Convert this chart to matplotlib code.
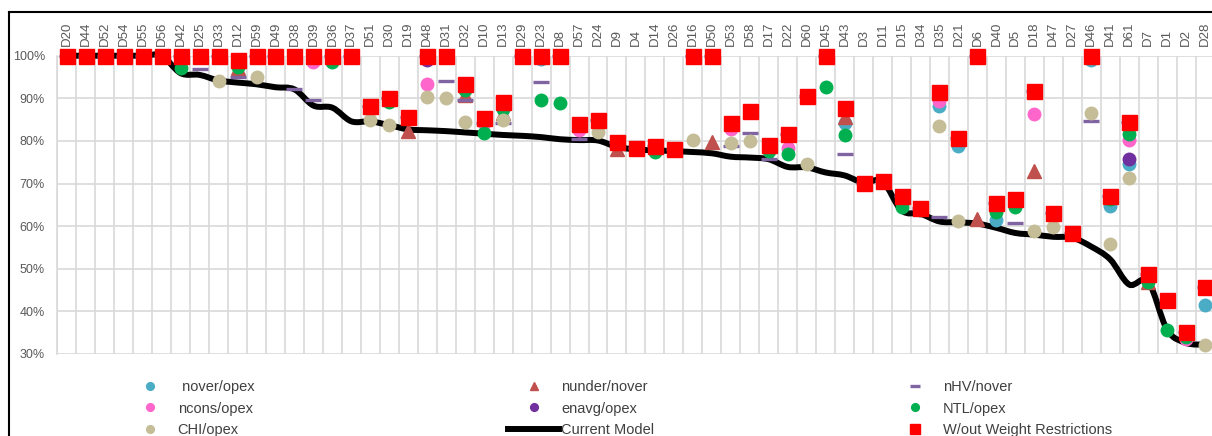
import numpy as np
import matplotlib.pyplot as plt
from matplotlib.path import Path
from matplotlib.patches import PathPatch
from matplotlib.lines import Line2D

plt.rcParams['font.family'] = ['Liberation Sans', 'DejaVu Sans']

# districts, sorted by the current model score
districts = ['D20', 'D44', 'D52', 'D54', 'D55', 'D56', 'D42', 'D25', 'D33', 'D12',
             'D59', 'D49', 'D38', 'D39', 'D36', 'D37', 'D51', 'D30', 'D19', 'D48',
             'D31', 'D32', 'D10', 'D13', 'D29', 'D23', 'D8', 'D57', 'D24', 'D9',
             'D4', 'D14', 'D26', 'D16', 'D50', 'D53', 'D58', 'D17', 'D22', 'D60',
             'D45', 'D43', 'D3', 'D11', 'D15', 'D34', 'D35', 'D21', 'D6', 'D40',
             'D5', 'D18', 'D47', 'D27', 'D46', 'D41', 'D61', 'D7', 'D1', 'D2',
             'D28']

# efficiency scores in %
nover_opex = [100, 100, 100, 100, 100, 100, 100, 100, 100, 98.9,
              100, 100, 100, 100, 100, 100, 88.2, 90.1, 85.6, 100,
              100, 93.3, 85.4, 89.1, 100, 99.2, 100, 84.0, 85.0, 79.8,
              78.3, 78.9, 78.1, 100, 100, 84.3, 87.0, 79.0, 81.6, 90.6,
              100, 84.3, 70.2, 70.6, 67.0, 64.2, 88.1, 78.7, 100, 61.5,
              66.3, 91.8, 63.1, 58.5, 99.0, 64.8, 74.5, 48.7, 42.6, 35.2,
              41.6]
nunder_nover = [100, 100, 100, 100, 100, 100, 100, 100, 100, 97.2,
                100, 100, 100, 100, 100, 100, 88.2, 90.1, 82.4, 100,
                100, 90.8, 85.4, 86.6, 100, 100, 100, 84.0, 85.0, 78.1,
                78.3, 78.9, 78.1, 100, 79.8, 84.3, 87.0, 79.0, 81.6, 90.6,
                100, 85.7, 70.2, 70.6, 67.0, 64.2, 91.6, 80.6, 61.7, 65.4,
                66.3, 73.0, 63.1, 58.5, 100, 67.0, 84.4, 46.9, 42.6, 35.2,
                45.7]
nhv_nover = [100, 100, 100, 100, 100, 100, 100, 97.0, 100, 95.1,
             100, 100, 92.1, 89.6, 100, 100, 88.2, 90.1, 85.6, 100,
             94.1, 89.6, 84.2, 84.2, 100, 93.8, 100, 80.4, 85.0, 79.8,
             78.3, 78.9, 78.1, 100, 100, 78.7, 81.8, 75.7, 81.6, 90.6,
             100, 76.9, 70.2, 70.6, 67.0, 64.2, 62.1, 80.6, 100, 65.4,
             60.7, 91.8, 63.1, 58.5, 84.7, 67.0, 84.4, 48.7, 42.6, 35.2,
             45.7]
ncons_opex = [100, 100, 100, 100, 100, 100, 100, 100, 100, 98.9,
              100, 100, 100, 98.6, 100, 100, 88.2, 90.1, 85.6, 93.4,
              100, 93.3, 84.2, 89.1, 100, 100, 100, 82.6, 85.0, 79.8,
              78.3, 78.9, 78.1, 100, 100, 82.8, 87.0, 79.0, 78.3, 90.6,
              100, 87.7, 70.2, 70.6, 67.0, 64.2, 89.4, 80.6, 100, 65.4,
              66.3, 86.3, 63.1, 58.5, 100, 67.0, 80.2, 48.7, 42.6, 33.5,
              45.7]
enavg_opex = [100, 100, 100, 100, 100, 100, 100, 100, 100, 98.9,
              100, 100, 100, 100, 100, 100, 88.2, 90.1, 85.6, 99.0,
              100, 93.3, 85.4, 89.1, 100, 100, 100, 84.0, 85.0, 79.8,
              78.3, 78.9, 78.1, 100, 100, 84.3, 87.0, 79.0, 81.6, 90.6,
              100, 87.7, 70.2, 70.6, 67.0, 64.2, 91.6, 80.6, 100, 65.4,
              66.3, 91.8, 63.1, 58.5, 100, 67.0, 75.7, 48.7, 42.6, 35.2,
              45.7]
ntl_opex = [100, 100, 100, 100, 100, 100, 97.2, 100, 100, 97.4,
            100, 100, 100, 100, 98.6, 100, 88.2, 89.2, 85.6, 100,
            100, 92.0, 81.8, 87.4, 100, 89.5, 88.8, 84.0, 85.0, 79.8,
            78.3, 77.5, 78.1, 100, 100, 84.3, 87.0, 77.7, 77.0, 90.3,
            92.7, 81.4, 70.2, 70.6, 64.5, 63.8, 91.6, 80.6, 100, 63.4,
            64.4, 91.5, 63.1, 58.5, 100, 66.3, 81.7, 47.0, 35.7, 34.0,
            45.7]
chi_opex = [100, 100, 100, 100, 100, 100, 100, 100, 94.1, 98.9,
            95.1, 100, 100, 100, 100, 100, 84.9, 83.8, 85.6, 90.4,
            90.0, 84.5, 85.4, 84.9, 100, 100, 100, 84.0, 82.2, 79.8,
            78.3, 78.9, 78.1, 80.3, 100, 79.5, 80.1, 79.0, 81.6, 74.5,
            100, 87.7, 70.2, 70.6, 67.0, 64.2, 83.5, 61.1, 100, 65.4,
            66.3, 58.8, 59.7, 58.2, 86.5, 55.8, 71.4, 48.7, 42.6, 35.2,
            32.2]
current_model = [100, 100, 100, 100, 100, 100, 95.9, 95.5, 94.2, 93.7,
                 93.3, 92.6, 92.1, 88.3, 87.8, 84.6, 84.6, 83.7, 82.7, 82.5,
                 82.3, 82.0, 81.7, 81.4, 81.2, 80.9, 80.4, 80.2, 80.1, 78.6,
                 78.0, 77.8, 77.6, 77.4, 77.1, 76.3, 76.1, 75.7, 73.9, 73.8,
                 72.6, 71.9, 70.2, 70.5, 63.7, 62.9, 61.1, 60.9, 60.6, 59.6,
                 58.4, 58.0, 57.5, 57.3, 55.2, 52.2, 46.3, 47.0, 35.7, 32.6,
                 32.2]
no_weight_restr = [100, 100, 100, 100, 100, 100, 100, 100, 100, 98.9,
                   100, 100, 100, 100, 100, 100, 88.2, 90.1, 85.6, 100,
                   100, 93.3, 85.4, 89.1, 100, 100, 100, 84.0, 85.0, 79.8,
                   78.3, 78.9, 78.1, 100, 100, 84.3, 87.0, 79.0, 81.6, 90.6,
                   100, 87.7, 70.2, 70.6, 67.0, 64.2, 91.6, 80.6, 100, 65.4,
                   66.3, 91.8, 63.1, 58.5, 100, 67.0, 84.4, 48.7, 42.6, 35.2,
                   45.7]

x = np.arange(len(districts))

fig = plt.figure(figsize=(12.12, 4.36), dpi=100)
ax = fig.add_axes([0.0473, 0.1881, 0.9548, 0.6841])

# smoothed line for the current model (bezier through every point)
pts = np.column_stack([x, current_model])
verts = [pts[0]]
codes = [Path.MOVETO]
n = len(pts)
for i in range(n - 1):
    p_prev = pts[max(i - 1, 0)]
    p0 = pts[i]
    p1 = pts[i + 1]
    p_next = pts[min(i + 2, n - 1)]
    verts += [p0 + (p1 - p_prev) / 6, p1 - (p_next - p0) / 6, p1]
    codes += [Path.CURVE4] * 3
ax.add_patch(PathPatch(Path(verts, codes), facecolor='none', edgecolor='black',
                       lw=4.3, zorder=2.5, clip_on=False, capstyle='round'))

series = [
    (nover_opex, ' nover/opex', dict(marker='o', color='#4bacc6', ms=9)),
    (nunder_nover, 'nunder/nover', dict(marker='^', color='#c0504d', ms=10)),
    (nhv_nover, 'nHV/nover', dict(marker='_', color='#8064a2', ms=11, mew=2.4)),
    (ncons_opex, 'ncons/opex', dict(marker='o', color='#ff66cc', ms=9)),
    (enavg_opex, 'enavg/opex', dict(marker='o', color='#7030a0', ms=9)),
    (ntl_opex, 'NTL/opex', dict(marker='o', color='#00b050', ms=9)),
    (chi_opex, 'CHI/opex', dict(marker='o', color='#c4bd97', ms=9)),
]
handles = {}
for vals, name, style in series:
    h, = ax.plot(x, vals, ls='none', mec=style['color'], clip_on=False,
                 zorder=3, label=name, **style)
    handles[name] = h
line_h = Line2D([], [], color='black', lw=4.3)
handles['Current Model'] = line_h
h, = ax.plot(x, no_weight_restr, ls='none', marker='s', ms=10.8, color='#ff0000',
             clip_on=False, zorder=4, label='W/out Weight Restrictions')
handles['W/out Weight Restrictions'] = h

ax.set_xlim(-0.5, len(districts) - 0.5)
ax.set_ylim(30, 100)
ax.set_yticks(np.arange(30, 101, 10))
ax.set_yticklabels(['%d%%' % v for v in range(30, 101, 10)])
ax.xaxis.tick_top()
ax.set_xticks(x)
ax.set_xticklabels(districts, rotation=90)
ax.set_xticks(np.arange(-0.5, len(districts), 1), minor=True)
ax.tick_params(axis='x', which='both', length=0, pad=7, labelsize=9.5,
               labelcolor='#595959')
ax.tick_params(axis='y', length=0, pad=9, labelsize=9, labelcolor='#595959')
ax.grid(which='minor', axis='x', color='#d9d9d9', lw=1.2)
ax.grid(which='major', axis='y', color='#d9d9d9', lw=1.2)
ax.grid(which='major', axis='x', visible=False)
ax.set_axisbelow(True)
for s in ['top', 'right', 'bottom']:
    ax.spines[s].set_visible(False)
ax.spines['left'].set_color('#d9d9d9')
ax.spines['left'].set_linewidth(1.2)

# legend: three columns, placed one by one
columns = [[' nover/opex', 'ncons/opex', 'CHI/opex'],
           ['nunder/nover', 'enavg/opex', 'Current Model'],
           ['nHV/nover', 'NTL/opex', 'W/out Weight Restrictions']]
col_left = [124.5, 508, 889.5]
for names, left in zip(columns, col_left):
    fig.legend([handles[k] for k in names], names, loc='upper left',
               bbox_to_anchor=(left / 1212, 1 - 380 / 436), frameon=False,
               fontsize=10.5, labelcolor='#404040', handlelength=3.5,
               handletextpad=0.15, borderpad=0, borderaxespad=0,
               labelspacing=0.52, markerscale=0.62)

# chart border
fig.add_artist(Line2D([9 / 1212, 9 / 1212], [0, 1 - 12 / 436], color='black',
                      lw=1.5, transform=fig.transFigure))
fig.add_artist(Line2D([9 / 1212, 1], [1 - 12 / 436, 1 - 12 / 436], color='black',
                      lw=1.5, transform=fig.transFigure))

fig.savefig('out.png', dpi=100)
